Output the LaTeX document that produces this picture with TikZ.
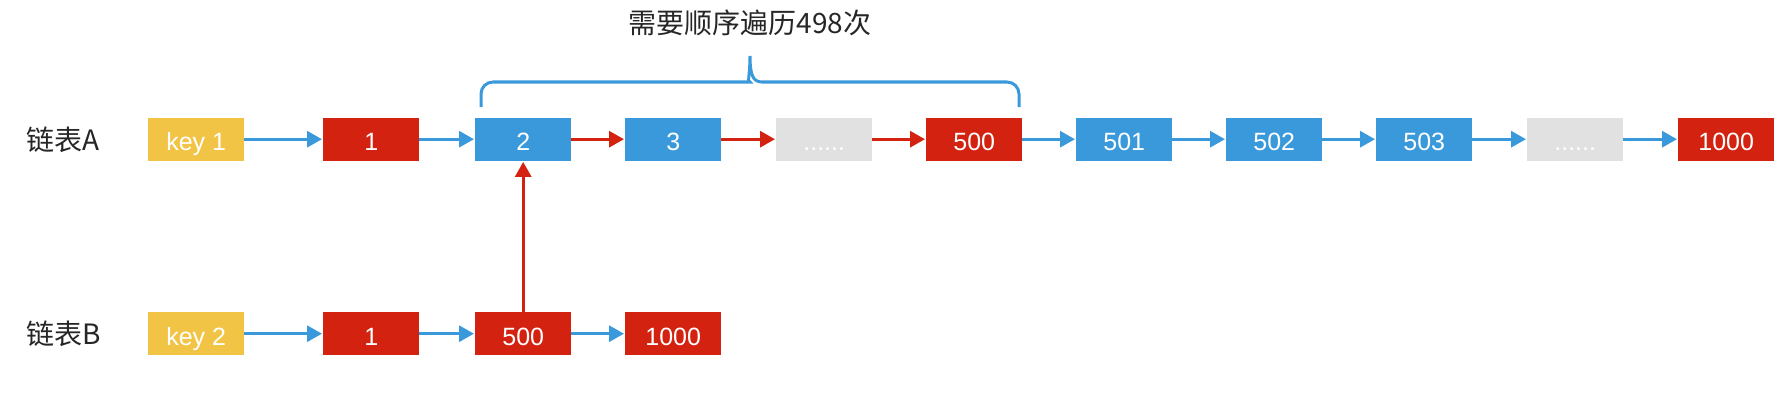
\documentclass[tikz,border=0pt]{standalone}
\usepackage{fontspec}
\setmainfont{Liberation Sans}
\newfontfamily\cjkfont{Noto Sans CJK SC}
\usetikzlibrary{arrows.meta}
\definecolor{cyel}{HTML}{F2C445}
\definecolor{cred}{HTML}{D42211}
\definecolor{cblue}{HTML}{3A99DB}
\definecolor{cgray}{HTML}{E1E1E1}
\tikzset{
  cell/.style={minimum width=96pt, minimum height=43pt, inner sep=0pt, text=white,
    font=\fontsize{25}{30}\selectfont, text height=23pt, text depth=0pt, anchor=north west},
  keycell/.style={cell, fill=cyel},
  redcell/.style={cell, fill=cred},
  bluecell/.style={cell, fill=cblue},
  graycell/.style={cell, fill=cgray},
  barrow/.style={line width=3pt, cblue, -{Triangle[length=15pt,width=16pt]}, shorten >=1pt},
  rarrow/.style={line width=3pt, cred, -{Triangle[length=15pt,width=16pt]}, shorten >=1pt},
  cjklabel/.style={font=\cjkfont\fontsize{28}{32}\selectfont, inner sep=0pt, text=black!85},
  bracestyle/.style={line width=3pt, cblue}
}
\begin{document}
\begin{tikzpicture}[x=1pt,y=-1pt]
\useasboundingbox (0,0) rectangle (1791,404);
% title
\node[cjklabel] (title) at (750,23) {需要顺序遍历498次};
% labels
\node[cjklabel, anchor=west] (labA) at (26,140) {链表A};
\node[cjklabel, anchor=west] (labB) at (26,334) {链表B};
% row A
\node[keycell]  (ak)  at (148,117.5) {key 1};
\node[redcell]  (a1)  at (323,117.5) {1};
\node[bluecell] (a2)  at (475,117.5) {2};
\node[bluecell] (a3)  at (625,117.5) {3};
\node[graycell] (ad1) at (776,117.5) {......};
\node[redcell]  (a500) at (926,117.5) {500};
\node[bluecell] (a501) at (1076,117.5) {501};
\node[bluecell] (a502) at (1226,117.5) {502};
\node[bluecell] (a503) at (1376,117.5) {503};
\node[graycell] (ad2) at (1527,117.5) {......};
\node[redcell]  (a1000) at (1678,117.5) {1000};
% row B
\node[keycell]  (bk)  at (148,312) {key 2};
\node[redcell]  (b1)  at (323,312) {1};
\node[redcell]  (b500) at (475,312) {500};
\node[redcell]  (b1000) at (625,312) {1000};
% arrows row A
\draw[barrow] (ak) -- (a1);
\draw[barrow] (a1) -- (a2);
\draw[rarrow] (a2) -- (a3);
\draw[rarrow] (a3) -- (ad1);
\draw[rarrow] (ad1) -- (a500);
\draw[barrow] (a500) -- (a501);
\draw[barrow] (a501) -- (a502);
\draw[barrow] (a502) -- (a503);
\draw[barrow] (a503) -- (ad2);
\draw[barrow] (ad2) -- (a1000);
% arrows row B
\draw[barrow] (bk) -- (b1);
\draw[barrow] (b1) -- (b500);
\draw[barrow] (b500) -- (b1000);
% vertical
\draw[rarrow] (b500) -- (a2);
% brace
\coordinate (brL) at (481,107);
\coordinate (brR) at (1019,107);
\coordinate (brT) at (750,56);
\draw[bracestyle] (brL) [rounded corners=12pt] -- (481,82) -- (738,82) [sharp corners]
  .. controls (747,82) and (750,75) .. (brT)
  .. controls (750,75) and (753,82) .. (762,82) [rounded corners=12pt] -- (1019,82) -- (brR);
\end{tikzpicture}
\end{document}
